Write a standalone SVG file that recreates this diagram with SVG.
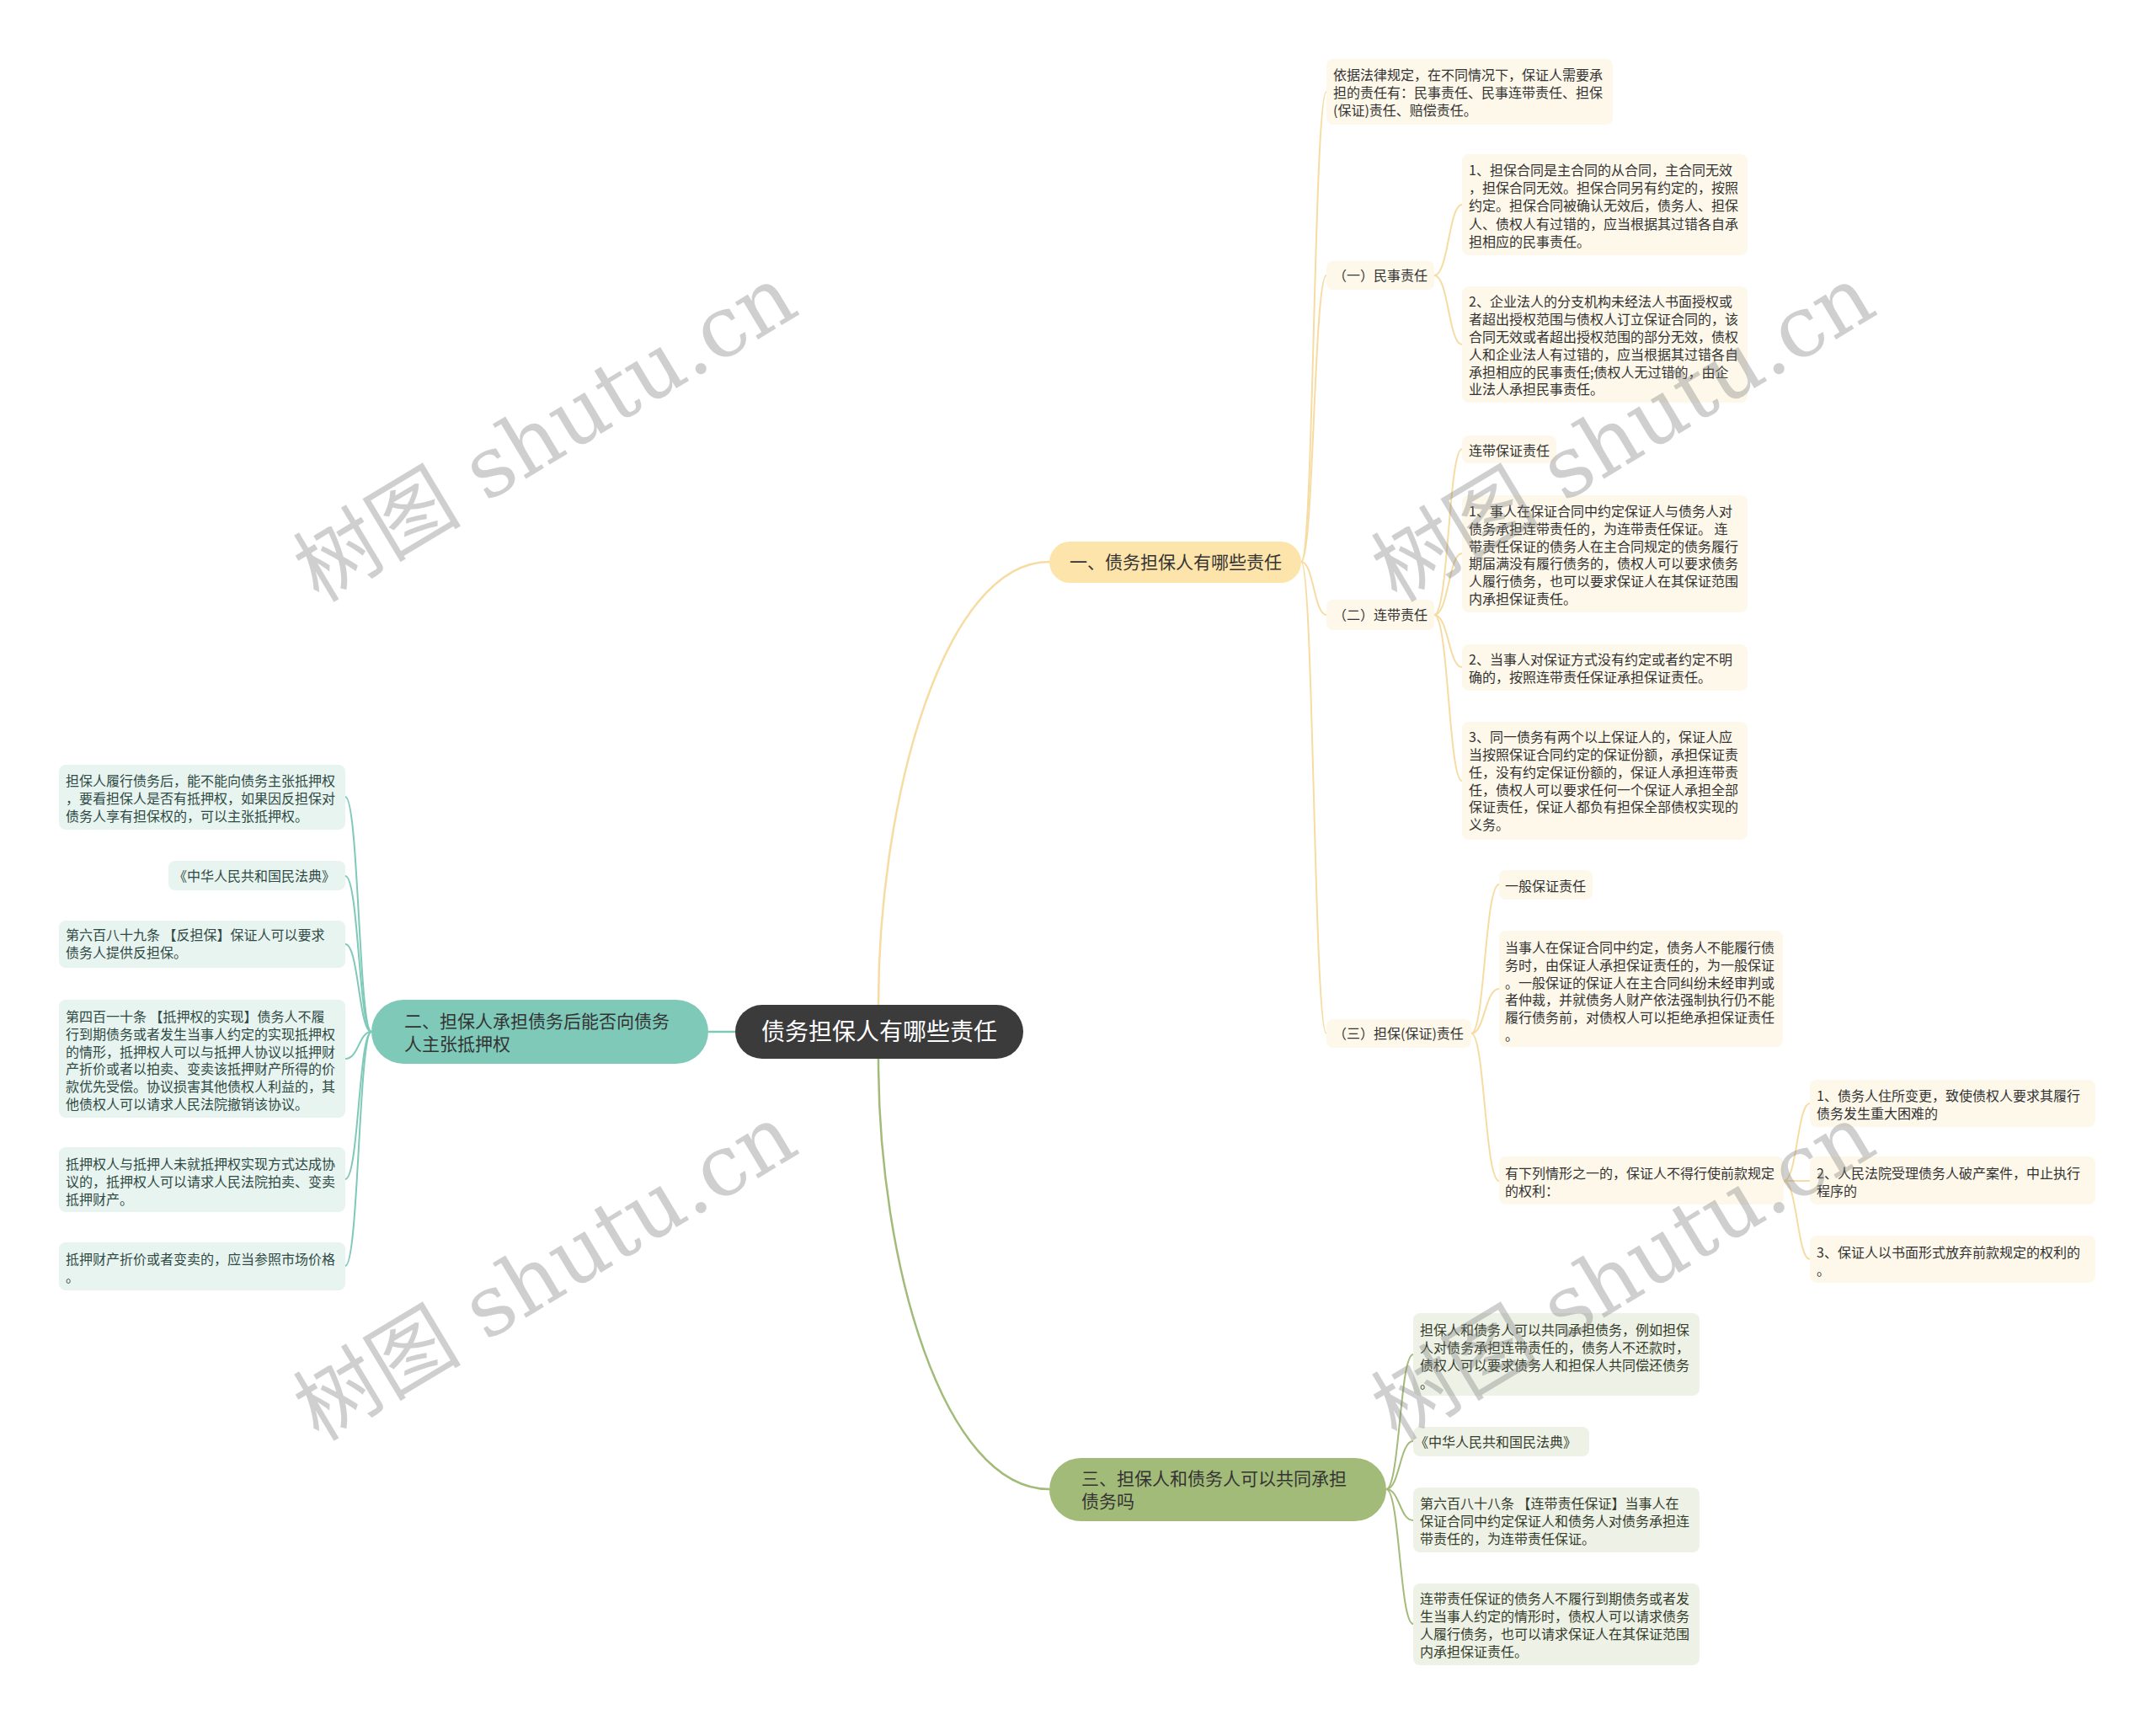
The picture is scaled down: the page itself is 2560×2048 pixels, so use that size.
<svg xmlns="http://www.w3.org/2000/svg" width="2560" height="2048" viewBox="0 0 2560 2048">
<style>
text{font-family:"Noto Sans CJK SC","Liberation Sans",sans-serif;font-size:16px;fill:#333}
.ly{fill:#fdf8ea}
.lt{fill:#e8f4f0}
.lg{fill:#eef2e6}
.tt{fill:#2f4a44}
.tg{fill:#343d2c}
.br{font-size:21px}
.cy{fill:none;stroke:#f6dca2;stroke-width:2}
.ct{fill:none;stroke:#7fc9b9;stroke-width:2}
.cg{fill:none;stroke:#a3bb79;stroke-width:2}
.main{stroke-width:2.5}
.wm{font-family:"DejaVu Serif","Noto Sans CJK SC",serif;font-size:100px;fill:#808080;fill-opacity:0.38}
</style>
<rect x="0" y="0" width="2560" height="2048" fill="#ffffff"/>
<g id="connectors">
<path class="cy main" d="M1043,1193 C1043,950 1120,667 1246,667"/>
<path class="ct main" d="M873,1225 L841,1225"/>
<path class="cg main" d="M1043,1257 C1043,1500 1120,1768 1246,1768"/>
<path class="cy" d="M1545,667 C1560,667 1560,109 1575,109"/>
<path class="cy" d="M1545,667 C1560,667 1560,327 1575,327"/>
<path class="cy" d="M1545,667 C1560,667 1560,730 1575,730"/>
<path class="cy" d="M1545,667 C1560,667 1560,1227 1575,1227"/>
<path class="cy" d="M1703,327 C1720,327 1720,243 1736,243"/>
<path class="cy" d="M1703,327 C1720,327 1720,409 1736,409"/>
<path class="cy" d="M1703,730 C1720,730 1720,533 1736,533"/>
<path class="cy" d="M1703,730 C1720,730 1720,657 1736,657"/>
<path class="cy" d="M1703,730 C1720,730 1720,792 1736,792"/>
<path class="cy" d="M1703,730 C1720,730 1720,927 1736,927"/>
<path class="cy" d="M1747,1227 C1763,1227 1763,1050 1780,1050"/>
<path class="cy" d="M1747,1227 C1763,1227 1763,1174 1780,1174"/>
<path class="cy" d="M1747,1227 C1763,1227 1763,1402 1780,1402"/>
<path class="cy" d="M2118,1402 C2134,1402 2134,1310 2149,1310"/>
<path class="cy" d="M2118,1402 L2149,1402"/>
<path class="cy" d="M2118,1402 C2134,1402 2134,1495 2149,1495"/>
<path class="ct" d="M441,1225 C426,1225 426,946 410,946"/>
<path class="ct" d="M441,1225 C426,1225 426,1040 410,1040"/>
<path class="ct" d="M441,1225 C426,1225 426,1121 410,1121"/>
<path class="ct" d="M441,1225 C426,1225 426,1257 410,1257"/>
<path class="ct" d="M441,1225 C426,1225 426,1400 410,1400"/>
<path class="ct" d="M441,1225 C426,1225 426,1503 410,1503"/>
<path class="cg" d="M1646,1768 C1662,1768 1662,1608 1678,1608"/>
<path class="cg" d="M1646,1768 C1662,1768 1662,1711 1678,1711"/>
<path class="cg" d="M1646,1768 C1662,1768 1662,1805 1678,1805"/>
<path class="cg" d="M1646,1768 C1662,1768 1662,1928 1678,1928"/>
</g>
<g id="root">
<rect x="873" y="1193" width="342" height="64" rx="32" fill="#3b3b3b"/>
<text x="1044" y="1235" text-anchor="middle" style="font-size:28px;fill:#ffffff">债务担保人有哪些责任</text>
</g>
<g id="branch1">
<rect x="1246" y="643" width="299" height="49" rx="24.5" fill="#fde4aa"/>
<text class="br" x="1270" y="675">一、债务担保人有哪些责任</text>
</g>
<g id="branch2">
<rect x="441" y="1187" width="400" height="76" rx="38" fill="#7fc9b9"/>
<text class="br" x="480"><tspan x="480" y="1220">二、担保人承担债务后能否向债务</tspan><tspan x="480" y="1247">人主张抵押权</tspan></text>
</g>
<g id="branch3">
<rect x="1246" y="1731" width="400" height="75" rx="37.5" fill="#a3bb79"/>
<text class="br" x="1284"><tspan x="1284" y="1763">三、担保人和债务人可以共同承担</tspan><tspan x="1284" y="1790">债务吗</tspan></text>
</g>
<g id="y0">
<rect class="ly" x="1575" y="70" width="340" height="78" rx="8"/>
<text><tspan x="1583" y="95">依据法律规定，在不同情况下，保证人需要承</tspan><tspan x="1583" y="116">担的责任有：民事责任、民事连带责任、担保</tspan><tspan x="1583" y="137">(保证)责任、赔偿责任。</tspan></text>
</g>
<g id="y1">
<rect class="ly" x="1575" y="310" width="128" height="34" rx="8"/>
<text x="1583" y="333">（一）民事责任</text>
</g>
<g id="y1a">
<rect class="ly" x="1736" y="183" width="339" height="120" rx="8"/>
<text><tspan x="1744" y="208">1、担保合同是主合同的从合同，主合同无效</tspan><tspan x="1744" y="229">，担保合同无效。担保合同另有约定的，按照</tspan><tspan x="1744" y="250">约定。担保合同被确认无效后，债务人、担保</tspan><tspan x="1744" y="272">人、债权人有过错的，应当根据其过错各自承</tspan><tspan x="1744" y="293">担相应的民事责任。</tspan></text>
</g>
<g id="y1b">
<rect class="ly" x="1736" y="340" width="339" height="138" rx="8"/>
<text><tspan x="1744" y="364">2、企业法人的分支机构未经法人书面授权或</tspan><tspan x="1744" y="385">者超出授权范围与债权人订立保证合同的，该</tspan><tspan x="1744" y="406">合同无效或者超出授权范围的部分无效，债权</tspan><tspan x="1744" y="427">人和企业法人有过错的，应当根据其过错各自</tspan><tspan x="1744" y="448">承担相应的民事责任;债权人无过错的，由企</tspan><tspan x="1744" y="468">业法人承担民事责任。</tspan></text>
</g>
<g id="y2">
<rect class="ly" x="1575" y="712" width="128" height="36" rx="8"/>
<text x="1583" y="736">（二）连带责任</text>
</g>
<g id="y2a">
<rect class="ly" x="1736" y="517" width="112" height="33" rx="8"/>
<text x="1744" y="541">连带保证责任</text>
</g>
<g id="y2b">
<rect class="ly" x="1736" y="588" width="339" height="139" rx="8"/>
<text><tspan x="1744" y="613">1、事人在保证合同中约定保证人与债务人对</tspan><tspan x="1744" y="634">债务承担连带责任的，为连带责任保证。 连</tspan><tspan x="1744" y="655">带责任保证的债务人在主合同规定的债务履行</tspan><tspan x="1744" y="675">期届满没有履行债务的，债权人可以要求债务</tspan><tspan x="1744" y="696">人履行债务，也可以要求保证人在其保证范围</tspan><tspan x="1744" y="717">内承担保证责任。</tspan></text>
</g>
<g id="y2c">
<rect class="ly" x="1736" y="765" width="339" height="55" rx="8"/>
<text><tspan x="1744" y="789">2、当事人对保证方式没有约定或者约定不明</tspan><tspan x="1744" y="810">确的，按照连带责任保证承担保证责任。</tspan></text>
</g>
<g id="y2d">
<rect class="ly" x="1736" y="857" width="339" height="140" rx="8"/>
<text><tspan x="1744" y="881">3、同一债务有两个以上保证人的，保证人应</tspan><tspan x="1744" y="902">当按照保证合同约定的保证份额，承担保证责</tspan><tspan x="1744" y="923">任，没有约定保证份额的，保证人承担连带责</tspan><tspan x="1744" y="944">任，债权人可以要求任何一个保证人承担全部</tspan><tspan x="1744" y="964">保证责任，保证人都负有担保全部债权实现的</tspan><tspan x="1744" y="985">义务。</tspan></text>
</g>
<g id="y3">
<rect class="ly" x="1575" y="1210" width="172" height="34" rx="8"/>
<text x="1583" y="1233">（三）担保(保证)责任</text>
</g>
<g id="y3a">
<rect class="ly" x="1780" y="1033" width="111" height="35" rx="8"/>
<text x="1787" y="1058">一般保证责任</text>
</g>
<g id="y3b">
<rect class="ly" x="1780" y="1105" width="337" height="138" rx="8"/>
<text><tspan x="1787" y="1131">当事人在保证合同中约定，债务人不能履行债</tspan><tspan x="1787" y="1152">务时，由保证人承担保证责任的，为一般保证</tspan><tspan x="1787" y="1173">。一般保证的保证人在主合同纠纷未经审判或</tspan><tspan x="1787" y="1193">者仲裁，并就债务人财产依法强制执行仍不能</tspan><tspan x="1787" y="1214">履行债务前，对债权人可以拒绝承担保证责任</tspan><tspan x="1787" y="1235">。</tspan></text>
</g>
<g id="y3c">
<rect class="ly" x="1780" y="1373" width="338" height="57" rx="8"/>
<text><tspan x="1787" y="1399">有下列情形之一的，保证人不得行使前款规定</tspan><tspan x="1787" y="1420">的权利：</tspan></text>
</g>
<g id="y3c1">
<rect class="ly" x="2149" y="1282" width="339" height="56" rx="8"/>
<text><tspan x="2157" y="1307">1、债务人住所变更，致使债权人要求其履行</tspan><tspan x="2157" y="1328">债务发生重大困难的</tspan></text>
</g>
<g id="y3c2">
<rect class="ly" x="2149" y="1373" width="339" height="57" rx="8"/>
<text><tspan x="2157" y="1399">2、人民法院受理债务人破产案件，中止执行</tspan><tspan x="2157" y="1420">程序的</tspan></text>
</g>
<g id="y3c3">
<rect class="ly" x="2149" y="1467" width="339" height="56" rx="8"/>
<text><tspan x="2157" y="1493">3、保证人以书面形式放弃前款规定的权利的</tspan><tspan x="2157" y="1514">。</tspan></text>
</g>
<g id="L1">
<rect class="lt" x="70" y="908" width="340" height="77" rx="8"/>
<text class="tt"><tspan x="78" y="933">担保人履行债务后，能不能向债务主张抵押权</tspan><tspan x="78" y="954">，要看担保人是否有抵押权，如果因反担保对</tspan><tspan x="78" y="975">债务人享有担保权的，可以主张抵押权。</tspan></text>
</g>
<g id="L2">
<rect class="lt" x="200" y="1022" width="210" height="35" rx="8"/>
<text class="tt" x="206" y="1046">《中华人民共和国民法典》</text>
</g>
<g id="L3">
<rect class="lt" x="70" y="1093" width="340" height="56" rx="8"/>
<text class="tt"><tspan x="78" y="1116">第六百八十九条 【反担保】保证人可以要求</tspan><tspan x="78" y="1137">债务人提供反担保。</tspan></text>
</g>
<g id="L4">
<rect class="lt" x="70" y="1187" width="340" height="140" rx="8"/>
<text class="tt"><tspan x="78" y="1213">第四百一十条 【抵押权的实现】债务人不履</tspan><tspan x="78" y="1234">行到期债务或者发生当事人约定的实现抵押权</tspan><tspan x="78" y="1255">的情形，抵押权人可以与抵押人协议以抵押财</tspan><tspan x="78" y="1275">产折价或者以拍卖、变卖该抵押财产所得的价</tspan><tspan x="78" y="1296">款优先受偿。协议损害其他债权人利益的，其</tspan><tspan x="78" y="1317">他债权人可以请求人民法院撤销该协议。</tspan></text>
</g>
<g id="L5">
<rect class="lt" x="70" y="1362" width="340" height="77" rx="8"/>
<text class="tt"><tspan x="78" y="1388">抵押权人与抵押人未就抵押权实现方式达成协</tspan><tspan x="78" y="1409">议的，抵押权人可以请求人民法院拍卖、变卖</tspan><tspan x="78" y="1430">抵押财产。</tspan></text>
</g>
<g id="L6">
<rect class="lt" x="70" y="1475" width="340" height="57" rx="8"/>
<text class="tt"><tspan x="78" y="1501">抵押财产折价或者变卖的，应当参照市场价格</tspan><tspan x="78" y="1522">。</tspan></text>
</g>
<g id="R1">
<rect class="lg" x="1678" y="1559" width="340" height="98" rx="8"/>
<text class="tg"><tspan x="1686" y="1585">担保人和债务人可以共同承担债务，例如担保</tspan><tspan x="1686" y="1606">人对债务承担连带责任的，债务人不还款时，</tspan><tspan x="1686" y="1627">债权人可以要求债务人和担保人共同偿还债务</tspan><tspan x="1686" y="1648">。</tspan></text>
</g>
<g id="R2">
<rect class="lg" x="1678" y="1694" width="209" height="35" rx="8"/>
<text class="tg" x="1680" y="1718">《中华人民共和国民法典》</text>
</g>
<g id="R3">
<rect class="lg" x="1678" y="1766" width="340" height="77" rx="8"/>
<text class="tg"><tspan x="1686" y="1791">第六百八十八条 【连带责任保证】当事人在</tspan><tspan x="1686" y="1812">保证合同中约定保证人和债务人对债务承担连</tspan><tspan x="1686" y="1833">带责任的，为连带责任保证。</tspan></text>
</g>
<g id="R4">
<rect class="lg" x="1678" y="1880" width="340" height="97" rx="8"/>
<text class="tg"><tspan x="1686" y="1904">连带责任保证的债务人不履行到期债务或者发</tspan><tspan x="1686" y="1925">生当事人约定的情形时，债权人可以请求债务</tspan><tspan x="1686" y="1946">人履行债务，也可以请求保证人在其保证范围</tspan><tspan x="1686" y="1967">内承担保证责任。</tspan></text>
</g>
<g id="watermarks">
<text class="wm" transform="translate(647,514) rotate(-31)" x="0" y="35" text-anchor="middle">树图 shutu.cn</text>
<text class="wm" transform="translate(1927,514) rotate(-31)" x="0" y="35" text-anchor="middle">树图 shutu.cn</text>
<text class="wm" transform="translate(647,1510) rotate(-31)" x="0" y="35" text-anchor="middle">树图 shutu.cn</text>
<text class="wm" transform="translate(1927,1510) rotate(-31)" x="0" y="35" text-anchor="middle">树图 shutu.cn</text>
</g>
</svg>
